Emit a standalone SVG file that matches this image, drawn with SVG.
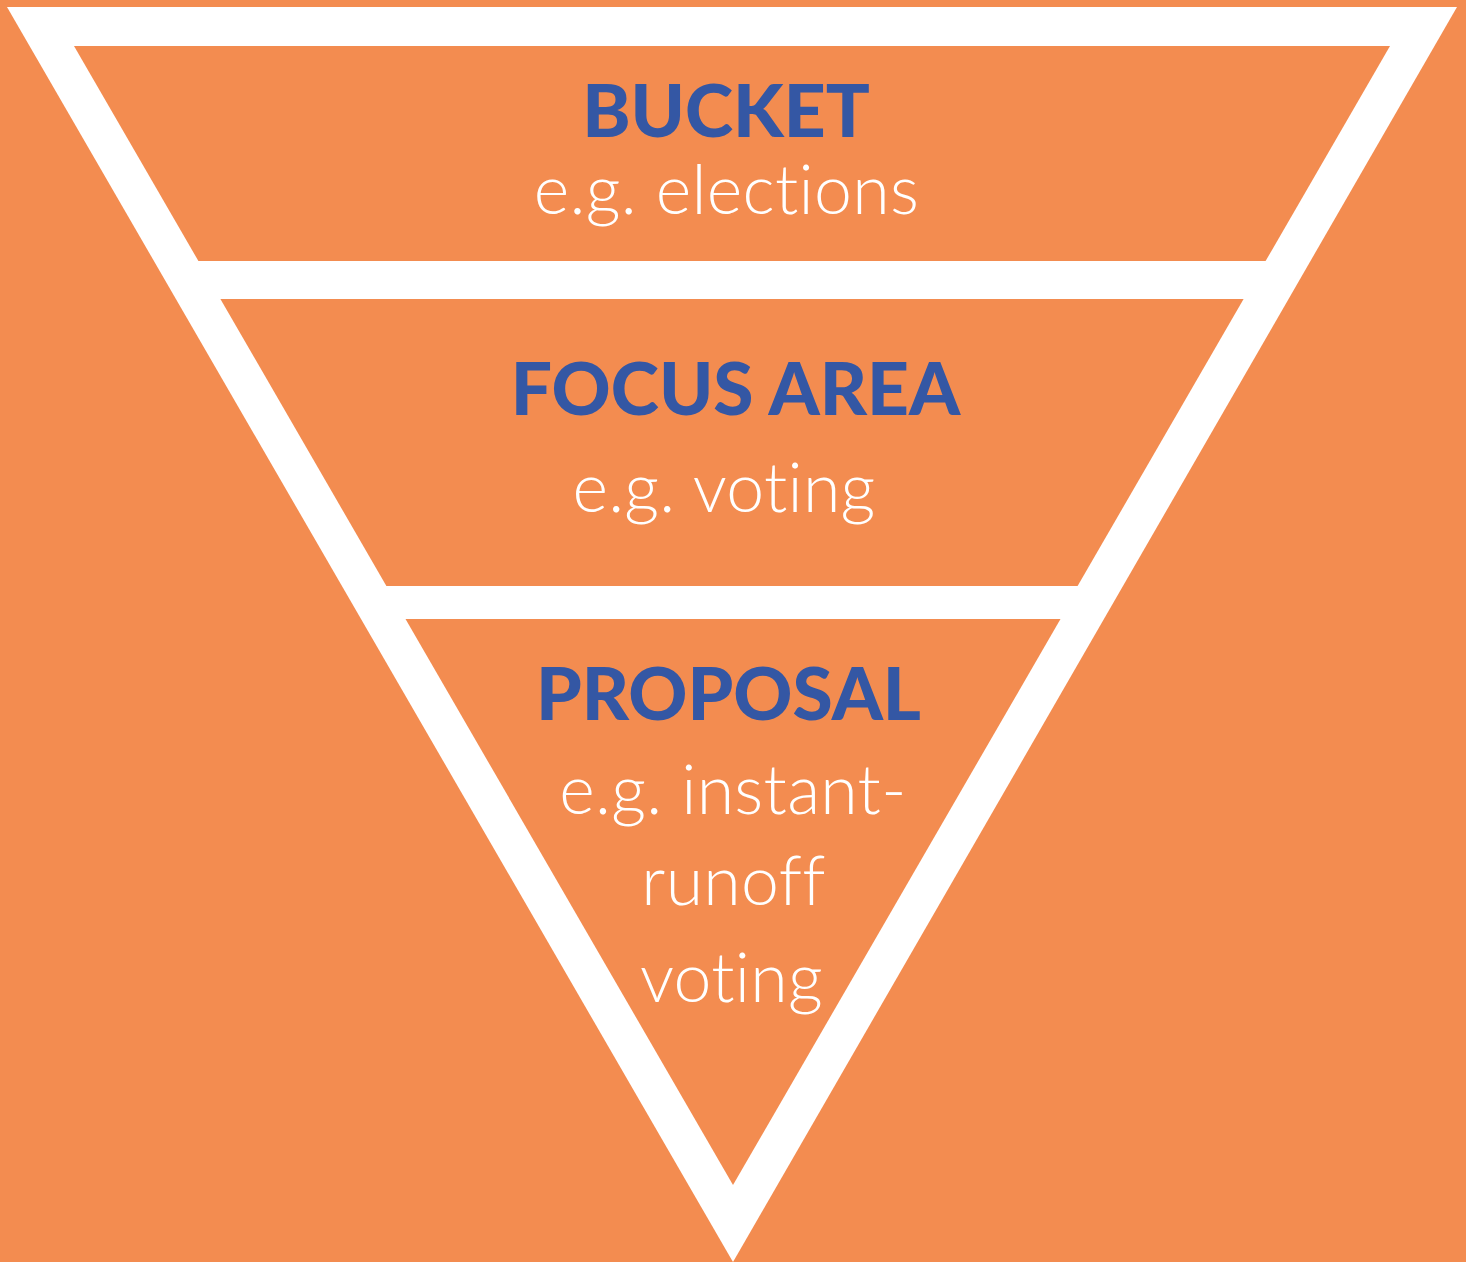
<svg xmlns="http://www.w3.org/2000/svg" width="1466" height="1262" viewBox="0 0 1466 1262">
<style>
.bg{fill:#F38C50}
.frame{fill:#FFFFFF}
.band{fill:#F38C50}
.title{font-family:Lato,"Liberation Sans",sans-serif;font-weight:900;font-size:73px;fill:#3457A4;text-anchor:middle}
.sub{font-family:Lato,"Liberation Sans",sans-serif;font-weight:300;font-size:68px;fill:#FFFFFF;text-anchor:middle;letter-spacing:0.3px;font-variant-ligatures:none;font-feature-settings:"liga" 0,"clig" 0}
</style>
<rect class="bg" x="0" y="0" width="1466" height="1262"/>
<polygon class="frame" points="7,7 1457,7 733,1262"/>
<g id="connectors"></g>
<g id="bucket">
<polygon class="band" points="74,46 1390,46 1265.6,261 198.4,261"/>
<text class="title" x="726" y="137">BUCKET</text>
<text class="sub" x="726.5" y="214">e.g. elections</text>
</g>
<g id="focus-area">
<polygon class="band" points="220.4,299 1243.6,299 1077.6,586 386.4,586"/>
<text class="title" x="735.5" y="415">FOCUS AREA</text>
<text class="sub" x="724" y="512">e.g. voting</text>
</g>
<g id="proposal">
<polygon class="band" points="405.5,619 1060.5,619 733,1185"/>
<text class="title" x="728.5" y="720">PROPOSAL</text>
<text class="sub" x="733" y="814">e.g. instant-</text>
<text class="sub" x="733.5" y="905">runoff</text>
<text class="sub" x="731.5" y="1002">voting</text>
</g>
</svg>
